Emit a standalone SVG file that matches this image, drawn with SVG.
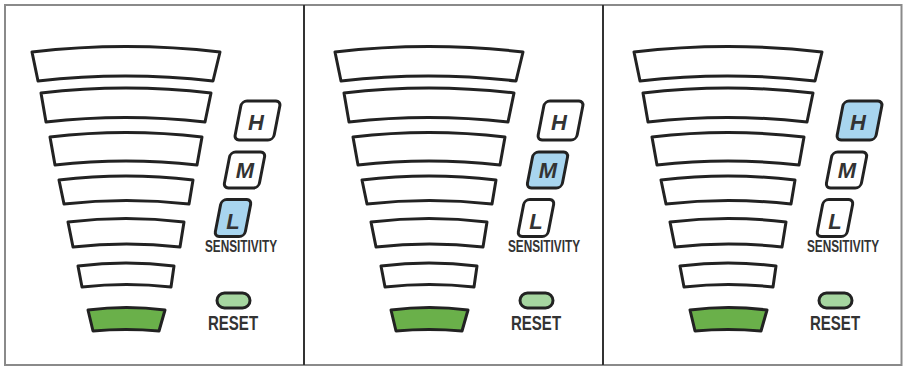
<svg xmlns="http://www.w3.org/2000/svg" width="903" height="367" viewBox="0 0 903 367">
<style>
.bar{fill:#ffffff;stroke:#222;stroke-width:3;stroke-linejoin:round}
.on{fill:#6ab04a}
.btn{fill:#ffffff;stroke:#222;stroke-width:3}
.sel{fill:#a8d5ef}
.lt{font-family:"Liberation Sans",Arial,sans-serif;font-weight:bold;font-style:italic;font-size:22px;fill:#333;text-anchor:middle}
.lbl{font-family:"Liberation Sans",Arial,sans-serif;font-weight:bold;fill:#333}
.sens{font-size:16.5px}
.rst{font-size:19.5px}
.oval{fill:#a6d6a0;stroke:#222;stroke-width:3}
</style>
<rect x="5" y="5" width="896.5" height="360" fill="#fff" stroke="#8a8a8a" stroke-width="2"/>
<g id="dividers">
<line x1="304" y1="5" x2="304" y2="365" stroke="#333" stroke-width="2"/>
<line x1="603" y1="5" x2="603" y2="365" stroke="#333" stroke-width="2"/>
</g>

<g id="panel1">
<g id="p1-meter">
<path class="bar" d="M32,52 Q126,41 220,52 L213,81 Q125.5,71 38,81 Z"/>
<path class="bar" d="M41,93 Q126,83 211,93 L205,122 Q125.5,113 46,122 Z"/>
<path class="bar" d="M50,137 Q126,128 202,137 L197,165 Q126,157 55,165 Z"/>
<path class="bar" d="M59,180 Q126,172 193,180 L189,204 Q126.5,197 64,204 Z"/>
<path class="bar" d="M68,222 Q126,215 184,222 L180,247 Q126.5,241 73,247 Z"/>
<path class="bar" d="M78,266 Q126,260 174,266 L171,287 Q126.5,282 82,287 Z"/>
<path class="bar on" d="M88,310 Q126.5,305 165,310 L159,331 Q126,328 93,331 Z"/>
</g>
<g id="p1-H"><rect class="btn" x="-19.5" y="-19.5" width="39" height="39" rx="5" transform="translate(257.5,120.5) skewX(-11)"/><text class="lt" x="256" y="130">H</text></g>
<g id="p1-M"><rect class="btn" x="-17.5" y="-18" width="35" height="36" rx="5" transform="translate(244.5,170) skewX(-11)"/><text class="lt" x="245" y="178">M</text></g>
<g id="p1-L"><rect class="btn sel" x="-15" y="-18.5" width="30" height="37" rx="5" transform="translate(233,218) skewX(-11)"/><text class="lt" x="233" y="229">L</text></g>
<text class="lbl sens" transform="translate(205,252) scale(0.713,1)" x="0" y="0" textLength="101" lengthAdjust="spacingAndGlyphs">SENSITIVITY</text>
<g id="p1-reset"><rect class="oval" x="217" y="293" width="33" height="15" rx="7.5"/>
<text class="lbl rst" transform="translate(208,330) scale(0.77,1)" x="0" y="0" textLength="65" lengthAdjust="spacingAndGlyphs">RESET</text></g>
</g>

<g id="panel2" transform="translate(303,0)">
<g id="p2-meter">
<path class="bar" d="M32,52 Q126,41 220,52 L213,81 Q125.5,71 38,81 Z"/>
<path class="bar" d="M41,93 Q126,83 211,93 L205,122 Q125.5,113 46,122 Z"/>
<path class="bar" d="M50,137 Q126,128 202,137 L197,165 Q126,157 55,165 Z"/>
<path class="bar" d="M59,180 Q126,172 193,180 L189,204 Q126.5,197 64,204 Z"/>
<path class="bar" d="M68,222 Q126,215 184,222 L180,247 Q126.5,241 73,247 Z"/>
<path class="bar" d="M78,266 Q126,260 174,266 L171,287 Q126.5,282 82,287 Z"/>
<path class="bar on" d="M88,310 Q126.5,305 165,310 L159,331 Q126,328 93,331 Z"/>
</g>
<g id="p2-H"><rect class="btn" x="-19.5" y="-19.5" width="39" height="39" rx="5" transform="translate(257.5,120.5) skewX(-11)"/><text class="lt" x="256" y="130">H</text></g>
<g id="p2-M"><rect class="btn sel" x="-17.5" y="-18" width="35" height="36" rx="5" transform="translate(244.5,170) skewX(-11)"/><text class="lt" x="245" y="178">M</text></g>
<g id="p2-L"><rect class="btn" x="-15" y="-18.5" width="30" height="37" rx="5" transform="translate(233,218) skewX(-11)"/><text class="lt" x="233" y="229">L</text></g>
<text class="lbl sens" transform="translate(205,252) scale(0.713,1)" x="0" y="0" textLength="101" lengthAdjust="spacingAndGlyphs">SENSITIVITY</text>
<g id="p2-reset"><rect class="oval" x="217" y="293" width="33" height="15" rx="7.5"/>
<text class="lbl rst" transform="translate(208,330) scale(0.77,1)" x="0" y="0" textLength="65" lengthAdjust="spacingAndGlyphs">RESET</text></g>
</g>

<g id="panel3" transform="translate(602,0)">
<g id="p3-meter">
<path class="bar" d="M32,52 Q126,41 220,52 L213,81 Q125.5,71 38,81 Z"/>
<path class="bar" d="M41,93 Q126,83 211,93 L205,122 Q125.5,113 46,122 Z"/>
<path class="bar" d="M50,137 Q126,128 202,137 L197,165 Q126,157 55,165 Z"/>
<path class="bar" d="M59,180 Q126,172 193,180 L189,204 Q126.5,197 64,204 Z"/>
<path class="bar" d="M68,222 Q126,215 184,222 L180,247 Q126.5,241 73,247 Z"/>
<path class="bar" d="M78,266 Q126,260 174,266 L171,287 Q126.5,282 82,287 Z"/>
<path class="bar on" d="M88,310 Q126.5,305 165,310 L159,331 Q126,328 93,331 Z"/>
</g>
<g id="p3-H"><rect class="btn sel" x="-19.5" y="-19.5" width="39" height="39" rx="5" transform="translate(257.5,120.5) skewX(-11)"/><text class="lt" x="256" y="130">H</text></g>
<g id="p3-M"><rect class="btn" x="-17.5" y="-18" width="35" height="36" rx="5" transform="translate(244.5,170) skewX(-11)"/><text class="lt" x="245" y="178">M</text></g>
<g id="p3-L"><rect class="btn" x="-15" y="-18.5" width="30" height="37" rx="5" transform="translate(233,218) skewX(-11)"/><text class="lt" x="233" y="229">L</text></g>
<text class="lbl sens" transform="translate(205,252) scale(0.713,1)" x="0" y="0" textLength="101" lengthAdjust="spacingAndGlyphs">SENSITIVITY</text>
<g id="p3-reset"><rect class="oval" x="217" y="293" width="33" height="15" rx="7.5"/>
<text class="lbl rst" transform="translate(208,330) scale(0.77,1)" x="0" y="0" textLength="65" lengthAdjust="spacingAndGlyphs">RESET</text></g>
</g>
</svg>
